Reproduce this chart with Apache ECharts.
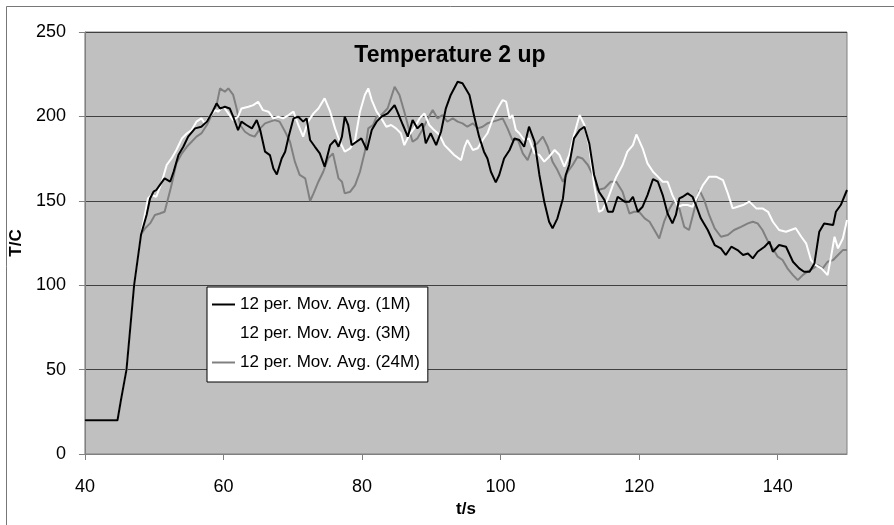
<!DOCTYPE html>
<html>
<head>
<meta charset="utf-8">
<script src="https://cdn.jsdelivr.net/npm/echarts@6/dist/echarts.min.js"></script>
<style>
html,body{margin:0;padding:0;background:#fff;}
#chart{width:894px;height:525px;}
</style>
</head>
<body>
<div id="chart"></div>
<script>
var titleText = 'Temperature 2 up';
var xName = 't/s';
var yName = 'T/C';
var seriesNames = ['12 per. Mov. Avg. (1M)', '12 per. Mov. Avg. (3M)', '12 per. Mov. Avg. (24M)'];

var avg1M = [[40,20],[44.7,20],[45.2,32],[46,50],[47.1,100],[48.1,130],[48.9,141.6],[49.4,151.4],[49.9,155.4],[50.3,156.4],[50.8,159.3],[51.5,163.3],[52.3,161.3],[52.8,167.2],[53.5,177.1],[54.2,182],[54.9,188],[55.9,192.9],[56.8,193.9],[57.6,196.9],[58.3,201.8],[59.0,207.7],[59.5,204.7],[60.2,205.7],[60.9,204.7],[61.4,199.8],[62.1,191.9],[62.6,196.9],[63.3,194.9],[64.1,192.9],[64.8,197.8],[65.3,191.9],[66.0,179.1],[66.7,177.1],[67.2,169.2],[67.7,165.6],[68.4,175.1],[68.9,179.1],[69.4,188],[70.1,198.8],[70.8,199.8],[71.5,196.9],[72.0,198.8],[72.5,186],[73.2,182],[73.9,178.1],[74.6,170.2],[75.4,183],[76.1,186],[76.6,182],[77.1,188],[77.5,199.8],[78.0,194.9],[78.5,183],[79.2,185],[79.9,187],[80.7,180.1],[81.4,191.9],[82.1,196.9],[82.8,199.8],[83.7,201.8],[84.7,206.7],[85.1,202.8],[85.9,194.9],[86.6,188],[87.3,197.8],[88.0,192.9],[88.7,195.9],[89.2,184],[89.9,190],[90.7,183],[91.4,190.9],[92.1,204.8],[92.8,212.7],[93.8,220.5],[94.5,219.6],[95.5,212.7],[96.2,199.8],[96.9,188],[97.6,179.1],[98.1,175.1],[98.6,167.2],[99.3,160.9],[99.8,165.3],[100.5,175.1],[101.3,180.1],[102.0,187],[102.7,186],[103.4,182],[104.1,193.9],[104.9,185],[105.6,165.3],[106.3,149.5],[107.0,137.6],[107.5,133.7],[108.2,139.6],[109.0,151.4],[109.4,165.3],[109.9,171.2],[110.6,187],[111.4,191.9],[112.1,193.9],[112.8,184],[113.5,165.3],[114.2,155.4],[115.0,150.4],[115.5,143.5],[116.2,143.5],[116.9,152.4],[117.9,149.5],[118.6,149.5],[119.1,152.4],[119.8,143.5],[120.5,146.5],[121.2,153.4],[122.0,162.9],[122.7,161.3],[123.4,153.4],[124.1,142.5],[124.8,136.6],[125.3,141.6],[125.8,151.4],[126.3,152.4],[127.0,154.4],[127.7,152.4],[128.2,147.5],[128.9,139.6],[129.9,132.7],[130.9,123.8],[131.8,121.8],[132.5,117.9],[133.3,122.8],[134.2,120.8],[135.0,117.9],[135.7,118.8],[136.4,115.9],[137.1,119.8],[138.1,122.8],[138.8,125.8],[139.3,119.8],[140.2,123.8],[141.2,122.8],[142.2,113.9],[143.1,110],[143.8,108],[144.6,108],[145.3,112.9],[146.0,131.7],[146.7,136.6],[148.0,135.6],[148.4,143.5],[149.1,147.5],[150,156.4]];

var avg3M = [[40,20],[44.7,20],[45.2,32],[46,50],[47.1,100],[48.1,130],[49.1,151.4],[49.6,153.4],[50.3,152.4],[51.1,161.3],[51.8,171.2],[52.5,175.1],[53.2,180.1],[54.0,187],[54.7,189.9],[55.4,191.9],[56.1,196.9],[56.8,198.8],[57.3,195.9],[58.0,199.8],[58.8,203.7],[59.2,202.8],[60.0,205.7],[60.7,201.8],[61.4,197.8],[62.1,199.8],[62.6,204.7],[63.6,205.7],[64.3,206.7],[65.0,208.7],[65.7,203.7],[66.5,202.8],[67.2,198.8],[67.9,199.8],[68.6,198.8],[69.4,200.8],[70.1,202.8],[70.8,194.9],[71.5,188],[72.2,196.9],[73.0,201.8],[73.7,204.7],[74.6,210.7],[75.4,202.8],[76.1,192.9],[76.8,185],[77.5,179.1],[78.3,181.1],[79.0,186],[79.7,202.8],[80.4,212.7],[80.9,216.6],[81.4,209.7],[82.1,202.8],[82.8,198.8],[83.5,193.9],[84.2,194.9],[84.9,192.9],[85.6,190],[86.1,183],[86.8,189],[87.5,192.9],[88.3,198.8],[89.0,201.8],[89.7,194.9],[90.4,191.9],[91.2,189],[91.9,183],[92.6,180.1],[93.3,177.1],[94.3,174.1],[94.8,182],[95.2,186],[96.0,180.1],[96.7,181.1],[97.4,186],[98.1,190],[98.9,198.8],[99.6,204.8],[100.3,209.7],[100.8,208.7],[101.3,198.8],[101.7,200.8],[102.2,191.9],[102.7,190],[103.4,186],[104.1,187],[104.9,178.1],[105.6,177.1],[106.3,173.2],[107.0,176.1],[107.8,180.1],[108.5,177.1],[109.2,170.2],[109.9,177.1],[110.6,189],[111.4,200.8],[112.1,194.9],[112.8,182],[113.5,159.3],[114.2,143.5],[114.7,144.5],[115.5,151.4],[116.2,159.3],[116.7,164.3],[117.6,171.2],[118.3,179.1],[119.1,183],[119.6,189.3],[120.5,181.1],[121.2,172.2],[122.0,167.2],[122.7,164.3],[123.4,161.3],[124.1,161.3],[124.8,153.4],[125.6,146.5],[126.3,147.5],[127.0,147.5],[127.7,146.5],[128.5,153.4],[129.2,159.3],[130.1,164.3],[131.1,164.3],[132.1,162.3],[132.8,154.4],[133.5,145.5],[134.2,146.5],[135.0,147.5],[135.9,149.5],[136.9,145.5],[137.8,145.5],[138.6,143.5],[139.3,137.6],[140.2,132.7],[141.2,131.7],[141.9,132.7],[142.6,133.7],[143.4,128.7],[144.1,124.8],[144.8,114.9],[145.5,111.9],[146.3,110],[147.2,106],[147.7,116.9],[148.2,128.7],[148.7,121.8],[149.4,127.7],[150,138.6]];

var avg24M = [[40,20],[44.7,20],[45.2,32],[46,50],[47.1,100],[48.1,130],[48.7,133.7],[49.4,136.6],[50.1,141.6],[50.8,142.5],[51.5,143.5],[52.0,151.4],[52.5,159.3],[53.2,172.2],[54.0,178.1],[54.7,182],[55.4,185],[56.1,188],[56.8,189.9],[57.6,194.9],[58.3,200.8],[59.0,206.7],[59.5,216.6],[60.2,214.6],[60.7,216.6],[61.4,212.7],[61.9,204.7],[62.4,194.9],[63.1,190.9],[63.8,189],[64.5,188],[65.3,192.9],[66.0,195.9],[66.7,196.9],[67.4,197.8],[68.1,196.9],[68.9,190.9],[69.6,185],[70.3,173.2],[71.0,165.3],[71.8,163.3],[72.5,149.9],[73.0,154.4],[73.7,161.3],[74.4,167.2],[75.1,175.1],[75.8,178.1],[76.6,163.3],[77.1,161.3],[77.5,154.4],[78.3,155.4],[79.0,159.3],[79.7,167.2],[80.4,179.1],[80.9,192.9],[81.6,194.9],[82.1,199.8],[82.8,200.8],[83.7,204.8],[84.7,217.6],[85.4,212.7],[86.1,202.8],[86.8,191.9],[87.3,185],[88.0,187],[88.7,191.9],[89.5,198.8],[90.2,203.8],[90.9,198.8],[91.6,200.8],[92.3,196.9],[93.1,198.8],[93.8,196.9],[94.5,195.9],[95.2,193.9],[96.0,195.9],[96.7,192.9],[97.4,193.9],[98.1,195.9],[98.9,196.9],[99.6,197.8],[100.3,198.8],[101.0,192.9],[101.7,186],[102.5,186],[103.2,178.1],[103.9,174.1],[104.6,182],[105.3,184],[106.1,188],[106.8,182],[107.5,173.2],[108.2,168.2],[109.0,161.3],[109.7,167.2],[110.4,171.2],[111.1,176.1],[111.8,175.1],[112.6,171.2],[113.3,165.3],[114.0,156.4],[115.0,157.4],[115.9,161.3],[116.7,161.3],[117.6,155.4],[118.6,142.5],[119.3,143.5],[120.0,143.5],[120.8,139.6],[121.5,137.6],[122.2,132.7],[122.9,127.7],[123.6,137.6],[124.4,145.5],[125.1,150.4],[125.8,145.5],[126.5,134.6],[127.2,132.7],[128.0,145.5],[128.7,156.4],[129.4,150.4],[130.1,141.6],[130.9,133.7],[131.8,128.7],[132.8,129.7],[133.7,132.7],[134.7,134.6],[135.7,136.6],[136.4,137.6],[137.1,136.6],[137.8,132.7],[138.6,125.8],[139.3,121.8],[140.0,116.9],[140.7,114.9],[141.4,110],[142.2,106],[142.9,103],[143.6,106],[144.3,108],[145.1,110],[145.8,111.9],[146.5,110],[147.2,113.9],[148.0,114.9],[148.7,117.9],[149.4,120.8],[150,120.8]];

var seriesColors = ['#000000', '#ffffff', '#808080'];
var FONT = "'Liberation Sans', Arial, sans-serif";

var chart = echarts.init(document.getElementById('chart'), null, {renderer: 'canvas'});
var allData = [avg1M, avg3M, avg24M];
var zs = [4, 3, 2];
var series = seriesNames.map(function (n, i) {
  return {
    name: n, type: 'line', data: allData[i], showSymbol: false, symbol: 'none',
    z: zs[i], animation: false,
    lineStyle: {color: seriesColors[i], width: 2},
    itemStyle: {color: seriesColors[i]}
  };
});

chart.setOption({
  animation: false,
  backgroundColor: '#ffffff',
  title: {
    text: titleText, left: 450, top: 44, textAlign: 'center', padding: 0,
    textStyle: {fontFamily: FONT, fontSize: 23, fontWeight: 'bold', color: '#000'}
  },
  graphic: [{
    type: 'rect', left: 4, top: 4, z: -1, silent: true,
    shape: {width: 900, height: 520},
    style: {fill: null, stroke: '#777777', lineWidth: 1}
  }],
  legend: {
    orient: 'vertical', left: 207, top: 287,
    padding: [9, 8, 11, 5], itemGap: 12,
    backgroundColor: '#ffffff', borderColor: '#000000', borderWidth: 1,
    icon: 'rect', itemWidth: 23, itemHeight: 2,
    data: seriesNames,
    textStyle: {fontFamily: FONT, fontSize: 17, color: '#000'}
  },
  grid: {
    left: 84, right: 47, top: 32, bottom: 71,
    show: true, backgroundColor: '#c0c0c0', borderColor: '#808080', borderWidth: 1
  },
  xAxis: {
    type: 'value', min: 40, max: 150, interval: 20,
    name: xName, nameLocation: 'middle', nameGap: 47,
    nameTextStyle: {fontFamily: FONT, fontSize: 17, fontWeight: 'bold', color: '#000'},
    axisLine: {show: true, lineStyle: {color: '#808080', width: 1}},
    axisTick: {show: true, length: 6, lineStyle: {color: '#808080'}},
    axisLabel: {showMaxLabel: false, margin: 24, fontFamily: FONT, fontSize: 18, color: '#000'},
    splitLine: {show: false}
  },
  yAxis: {
    type: 'value', min: 0, max: 250, interval: 50,
    name: yName, nameLocation: 'middle', nameGap: 56, nameRotate: 90,
    nameTextStyle: {fontFamily: FONT, fontSize: 17, fontWeight: 'bold', color: '#000'},
    axisLine: {show: true, lineStyle: {color: '#808080', width: 1}},
    axisTick: {show: true, length: 6, lineStyle: {color: '#808080'}},
    axisLabel: {margin: 19, fontFamily: FONT, fontSize: 18, color: '#000'},
    splitLine: {show: true, lineStyle: {color: '#404040', width: 1}}
  },
  series: series
});
</script>
</body>
</html>
